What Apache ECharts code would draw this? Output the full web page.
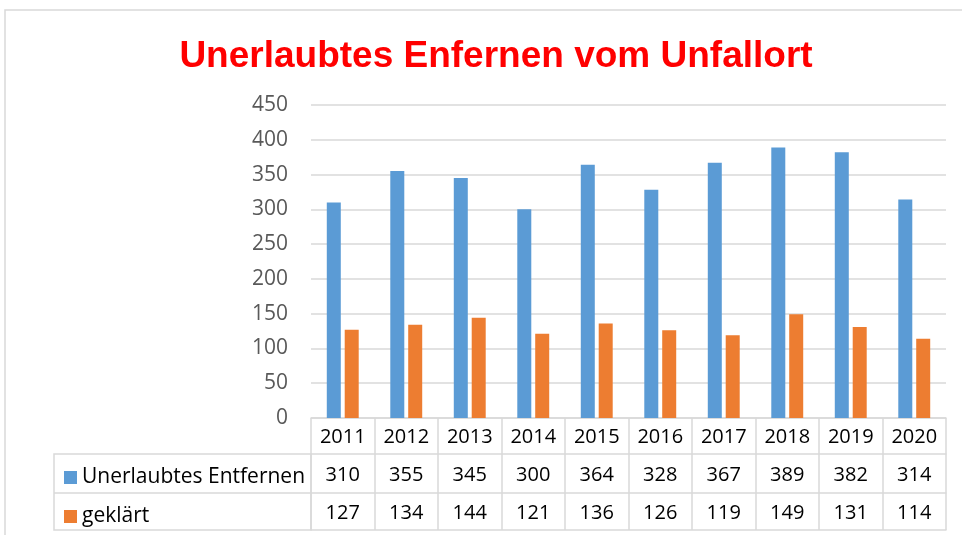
<!doctype html>
<html lang="de">
<head>
<meta charset="UTF-8">
<title>Unerlaubtes Enfernen vom Unfallort</title>
<script src="https://cdn.jsdelivr.net/npm/echarts@6/dist/echarts.min.js"></script>
<style>
  html, body { margin: 0; padding: 0; background: #fff; }
</style>
</head>
<body>
<div id="main" style="width:962px;height:535px;"></div>
<script type="text/javascript">
    // Daten
    var jahre = ['2011', '2012', '2013', '2014', '2015', '2016', '2017', '2018', '2019', '2020'];
    var unerlaubt = [310, 355, 345, 300, 364, 328, 367, 389, 382, 314];
    var geklaert = [127, 134, 144, 121, 136, 126, 119, 149, 131, 114];
    var serienNamen = ['Unerlaubtes Entfernen', 'geklärt'];

    var blau = '#5B9BD5';
    var orange = '#ED7D31';
    var rahmen = '#d9d9d9';
    var schrift = '"Open Sans", "Liberation Sans", sans-serif';

    var myChart = echarts.init(document.getElementById('main'));

    // eine Tabellenzeile unter dem Diagramm = eine weitere x-Achse
    function tabellenZeile(werte, offset, abstand) {
        return {
            type: 'category',
            position: 'bottom',
            offset: offset,
            data: jahre,
            axisLine: { show: true, lineStyle: { color: rahmen, width: 1.5 } },
            axisTick: { show: false },
            axisLabel: {
                interval: 0,
                margin: abstand,
                verticalAlign: 'middle',
                fontSize: 20,
                fontFamily: schrift,
                color: '#000',
                formatter: function (v, i) { return String(werte[i]); }
            }
        };
    }

    var option = {
        backgroundColor: '#fff',
        animation: false,
        title: {
            text: 'Unerlaubtes Enfernen vom Unfallort',
            left: 491,
            textAlign: 'center',
            top: 33,
            textStyle: {
                color: '#ff0000',
                fontSize: 37,
                fontWeight: 'bold',
                fontFamily: '"Liberation Sans", Arial, sans-serif'
            }
        },
        legend: {
            orient: 'vertical',
            left: 59,
            top: 462,
            itemWidth: 13,
            itemHeight: 13,
            itemGap: 18,
            icon: 'rect',
            selectedMode: false,
            textStyle: { fontSize: 21, fontFamily: schrift, color: '#000', padding: [0, 0, 0, 0] },
            data: serienNamen
        },
        grid: { left: 311, right: 16, top: 105, bottom: 117 },
        xAxis: [
            {
                type: 'category',
                position: 'bottom',
                data: jahre,
                axisLine: { show: true, lineStyle: { color: rahmen, width: 1.5 } },
                axisTick: { show: true, interval: 0, length: 112, lineStyle: { color: rahmen, width: 1.5 } },
                axisLabel: {
                    interval: 0,
                    margin: 19,
                    verticalAlign: 'middle',
                    fontSize: 20,
                    fontFamily: schrift,
                    color: '#000'
                }
            },
            tabellenZeile(unerlaubt, 36, 21),
            tabellenZeile(geklaert, 75, 20),
            {
                type: 'category',
                position: 'bottom',
                offset: 112,
                data: jahre,
                axisLine: { show: true, lineStyle: { color: rahmen, width: 1.5 } },
                axisTick: { show: false },
                axisLabel: { show: false }
            }
        ],
        yAxis: {
            type: 'value',
            min: 0,
            max: 450,
            interval: 50,
            axisLine: { show: false },
            axisTick: { show: false },
            axisLabel: { margin: 23, fontSize: 21, fontFamily: schrift, color: '#595959' },
            splitLine: { lineStyle: { color: rahmen, width: 1.5 } }
        },
        series: [
            {
                name: serienNamen[0],
                type: 'bar',
                data: unerlaubt,
                barWidth: 14,
                barGap: '28%',
                itemStyle: { color: blau }
            },
            {
                name: serienNamen[1],
                type: 'bar',
                data: geklaert,
                barWidth: 14,
                itemStyle: { color: orange }
            }
        ],
        graphic: [
            // Diagrammrahmen
            { type: 'rect', silent: true, shape: { x: 5, y: 10, width: 1000, height: 600 },
              style: { fill: null, stroke: rahmen, lineWidth: 1.5 } },
            // Legendenspalte der Datentabelle
            { type: 'rect', silent: true, shape: { x: 54, y: 454, width: 257, height: 76 },
              style: { fill: null, stroke: rahmen, lineWidth: 1.5 } },
            { type: 'line', silent: true, shape: { x1: 54, y1: 493, x2: 311, y2: 493 },
              style: { stroke: rahmen, lineWidth: 1.5 } }
        ]
    };

    myChart.setOption(option);
</script>
</body>
</html>
